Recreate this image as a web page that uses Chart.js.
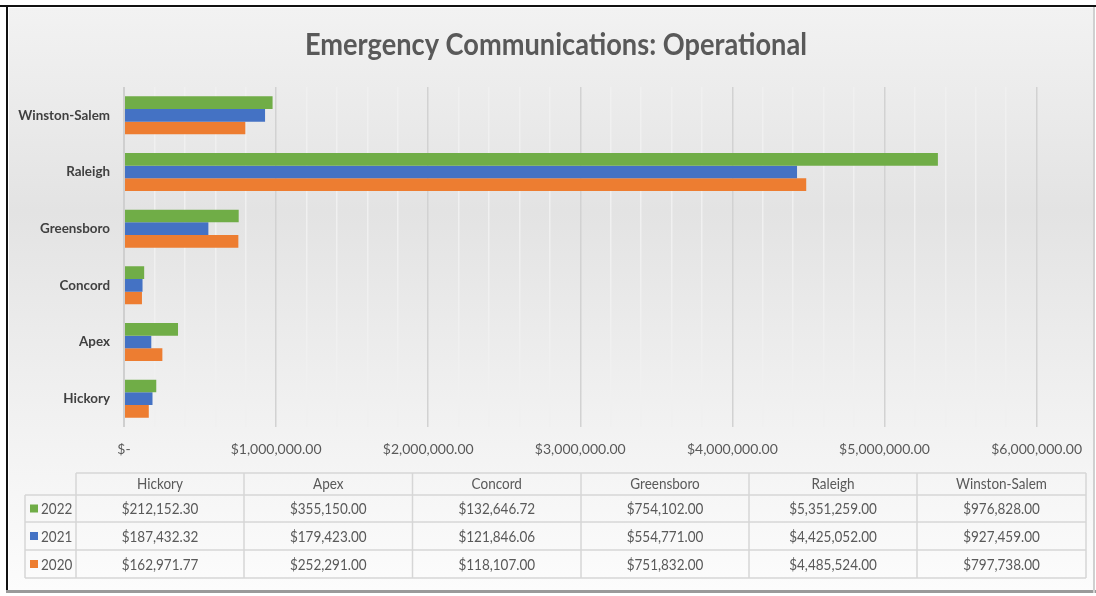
<!DOCTYPE html>
<html>
<head>
<meta charset="utf-8">
<script src="https://cdn.jsdelivr.net/npm/chart.js@4/dist/chart.umd.min.js"></script>
<style>
  body { margin: 0; background: #fff; }
  #myChart { display: block; }
</style>
</head>
<body>
<canvas id="myChart" width="1096" height="596"></canvas>
<script>
const categories = ["Hickory", "Apex", "Concord", "Greensboro", "Raleigh", "Winston-Salem"];
const years = ["2022", "2021", "2020"];
const values2022 = [212152.30, 355150.00, 132646.72, 754102.00, 5351259.00, 976828.00];
const values2021 = [187432.32, 179423.00, 121846.06, 554771.00, 4425052.00, 927459.00];
const values2020 = [162971.77, 252291.00, 118107.00, 751832.00, 4485524.00, 797738.00];
const seriesValues = [values2022, values2021, values2020];
const seriesColors = ["#70ad47", "#4472c4", "#ed7d31"];

const FONT = 'Lato, "Open Sans", sans-serif';
const TEXT = "#595959";

const money = (v) =>
  "$" + v.toLocaleString("en-US", { minimumFractionDigits: 2, maximumFractionDigits: 2 });

// draw text squeezed a bit, Calibri is narrower than what we have
function narrowText(c, str, x, y, sx) {
  c.save();
  c.translate(x, y);
  c.scale(sx, 1);
  c.fillText(str, 0, 0);
  c.restore();
}

// background, frame and title
const backdrop = {
  id: "backdrop",
  beforeDraw(chart) {
    const c = chart.ctx;
    const w = chart.width, h = chart.height;
    c.save();
    c.fillStyle = "#fff";
    c.fillRect(0, 0, w, h);
    const g = c.createLinearGradient(0, 8, 0, 590);
    g.addColorStop(0, "#f2f2f2");
    g.addColorStop(0.35, "#e3e3e3");
    g.addColorStop(0.75, "#f3f3f3");
    g.addColorStop(1, "#fcfcfc");
    c.fillStyle = g;
    c.fillRect(9, 8, w - 12, h - 14);
    // frame
    c.fillStyle = "#111";
    c.fillRect(0, 5, w, 2);
    c.fillRect(6, 5, 2, h - 8);
    c.fillStyle = "#9a9a9a";
    c.fillRect(6, h - 6, w - 6, 3);
    c.fillStyle = "#d0d0d0";
    c.fillRect(w - 3, 7, 2, h - 10);
    // title
    c.fillStyle = TEXT;
    c.font = "bold 31px " + FONT;
    c.textAlign = "center";
    c.textBaseline = "middle";
    const title = "Emergency Communications: Operational";
    const tw = c.measureText(title).width;
    narrowText(c, title, 556, 45, Math.min(1, 502 / tw));
    c.restore();
  },
};

// data table under the chart
const dataTable = {
  id: "dataTable",
  afterDraw(chart) {
    const c = chart.ctx;
    const colX = [76, 244, 412.5, 581, 749, 917, 1086];
    const legendX = 25;
    const rowY = [473, 495, 522, 550, 578];
    c.save();
    c.strokeStyle = "#d6d6d6";
    c.lineWidth = 1.5;
    c.beginPath();
    c.moveTo(colX[0], rowY[0]); c.lineTo(colX[6], rowY[0]);
    for (let r = 1; r < rowY.length; r++) {
      c.moveTo(legendX, rowY[r]); c.lineTo(colX[6], rowY[r]);
    }
    c.moveTo(legendX, rowY[1]); c.lineTo(legendX, rowY[4]);
    colX.forEach((x) => { c.moveTo(x, rowY[0]); c.lineTo(x, rowY[4]); });
    c.stroke();

    c.font = "15px " + FONT;
    c.fillStyle = TEXT;
    c.textAlign = "center";
    c.textBaseline = "middle";
    const sx = 0.9;
    categories.forEach((cat, i) => {
      const cx = (colX[i] + colX[i + 1]) / 2;
      narrowText(c, cat, cx, (rowY[0] + rowY[1]) / 2, sx);
      seriesValues.forEach((vals, s) => {
        narrowText(c, money(vals[i]), cx, (rowY[s + 1] + rowY[s + 2]) / 2 + 1, sx);
      });
    });
    years.forEach((y, s) => {
      const cy = (rowY[s + 1] + rowY[s + 2]) / 2;
      c.fillStyle = seriesColors[s];
      c.fillRect(30, cy - 4, 8, 8);
      c.fillStyle = TEXT;
      c.textAlign = "left";
      narrowText(c, y, 41, cy + 1, sx);
    });
    c.restore();
  },
};

const data = {
  labels: categories,
  datasets: years.map((y, s) => ({
    label: y,
    data: seriesValues[s],
    backgroundColor: seriesColors[s],
    borderWidth: 0,
    categoryPercentage: 0.67,
    barPercentage: 1.0,
  })),
};

const config = {
  type: "bar",
  data,
  options: {
    indexAxis: "y",
    responsive: false,
    animation: false,
    layout: { padding: { top: 87, right: 56, bottom: 139, left: 0 } },
    scales: {
      x: {
        min: 0,
        max: 6000000,
        afterFit: (scale) => { scale.height = 30; },
        ticks: {
          stepSize: 200000,
          autoSkip: false,
          maxRotation: 0,
          padding: 14,
          color: TEXT,
          font: { family: FONT, size: 14 },
          callback: (v) => {
            if (v === 0) return "$-";
            if (v % 1000000 !== 0) return "";
            return money(v);
          },
        },
        grid: {
          drawTicks: false,
          color: (ctx) => {
            if (ctx.tick && ctx.tick.value === 0) return "#cfcfcf";
            return ctx.tick && ctx.tick.value % 1000000 === 0 ? "#d2d2d2" : "#f0f0f0";
          },
          lineWidth: (ctx) => (ctx.tick && ctx.tick.value === 0 ? 2 : 1.5),
        },
        border: { display: false },
      },
      y: {
        reverse: true,
        afterFit: (scale) => { scale.width = 124; },
        ticks: {
          padding: 14,
          color: "#404040",
          font: { family: FONT, size: 13.4, weight: "bold" },
        },
        grid: { display: false, drawTicks: false },
        border: { display: false },
      },
    },
    plugins: {
      legend: { display: false },
      title: { display: false },
      tooltip: { enabled: false },
    },
  },
  plugins: [backdrop, dataTable],
};

const myChart = new Chart(document.getElementById("myChart"), config);
</script>
</body>
</html>
